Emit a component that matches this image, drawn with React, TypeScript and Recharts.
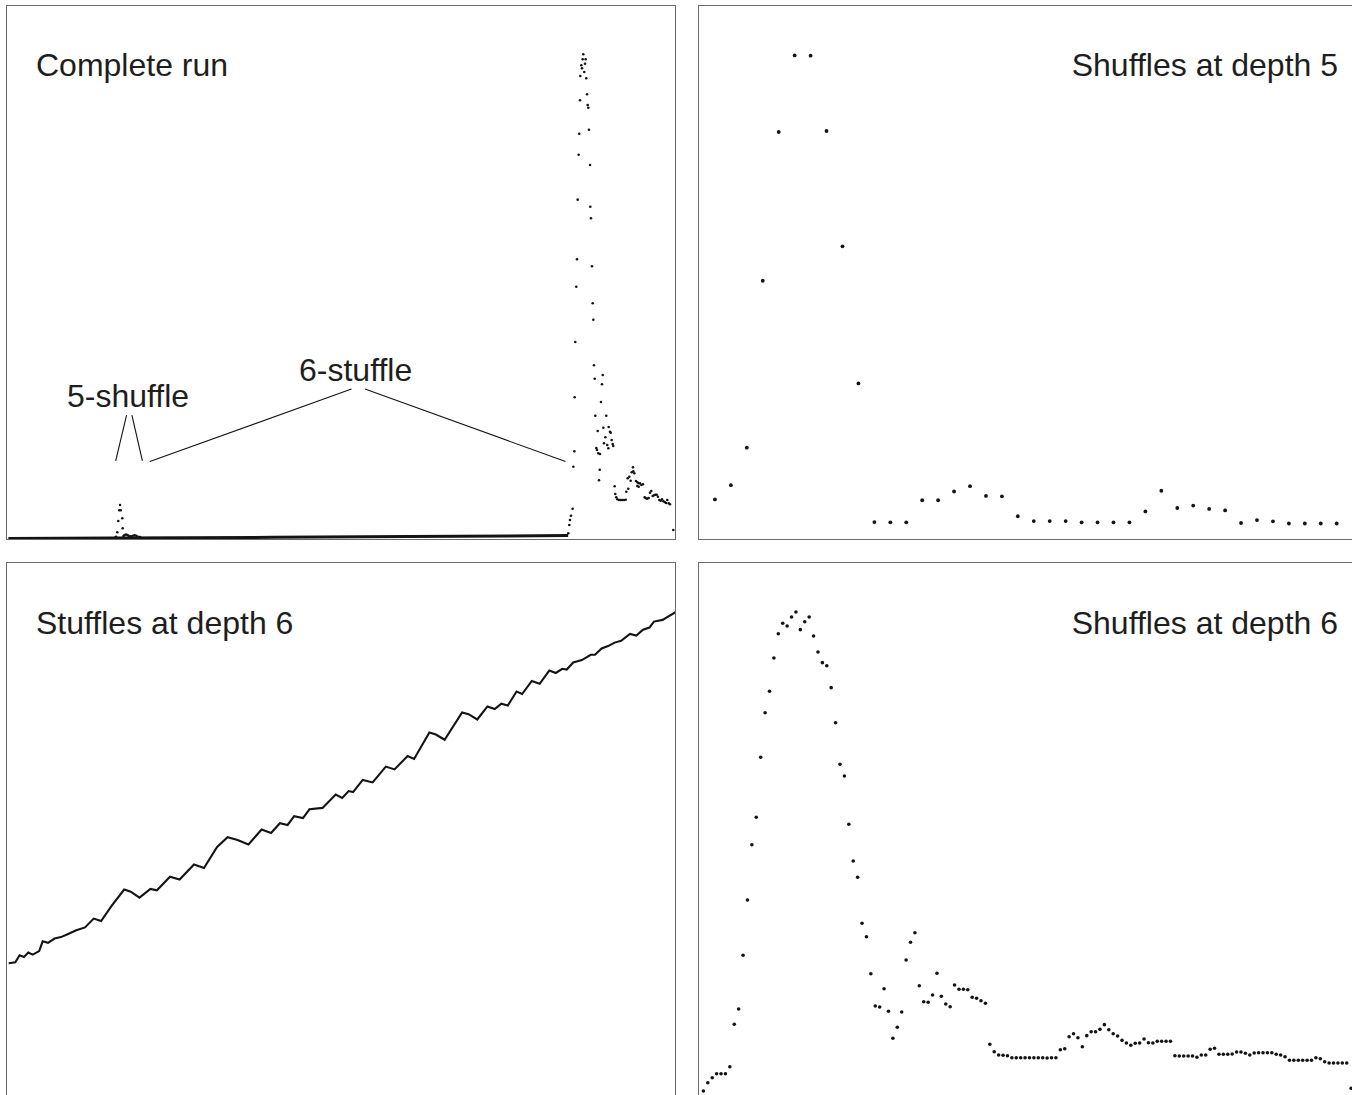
import React from 'react';
import { ScatterChart, Scatter, LineChart, Line, XAxis, YAxis, ReferenceLine } from 'recharts';

const PANEL_W = 668;
const PANEL_H = 533;
const INK = '#141414';
const FONT = "'Liberation Sans', Arial, Helvetica, sans-serif";

// Complete run: x = % of the run, y = count scaled so the tallest peak reads 100
const runBaseline = [[0.2, 0.1], [16, 0.2], [40, 0.35], [60, 0.5], [84, 0.72]];

const runFiveShuffle = [
  [16.24, 0.31], [16.32, 0.47], [16.51, 1.38], [16.66, 3.71], [16.81, 5.92], [16.92, 7.02],
  [17.02, 5.92], [17.26, 4.27], [17.32, 2.21], [17.44, 0.62], [17.59, 0.83], [17.81, 0.93],
  [18.04, 0.83], [18.26, 0.62], [18.56, 0.56], [18.86, 0.66], [19.09, 0.76], [19.31, 0.66],
  [19.54, 0.52], [19.91, 0.41],
];

const runSixShuffle = [
  [84.03, 1.18], [84.18, 2.89], [84.28, 3.92], [84.43, 4.81], [84.68, 6.25], [84.78, 14.92],
  [84.93, 18.1], [84.98, 29.24], [85.07, 40.66], [85.22, 52.07], [85.33, 57.73], [85.43, 70.03],
  [85.58, 79.31], [85.67, 83.65], [85.78, 90.54], [85.82, 95.55], [85.97, 97.76], [86.08, 97.14],
  [86.18, 99.0], [86.27, 100.03], [86.42, 96.38], [86.53, 98.09], [86.63, 99.0], [86.72, 95.08],
  [86.83, 91.78], [86.93, 89.57], [87.02, 89.01], [87.12, 84.47], [87.28, 77.19], [87.32, 68.58],
  [87.42, 66.19], [87.57, 56.28], [87.68, 48.64], [87.77, 45.26], [87.87, 35.85], [87.98, 33.08],
  [88.07, 25.45], [88.22, 18.78], [88.32, 18.37], [88.43, 22.29], [88.52, 17.69], [88.62, 12.11],
  [88.73, 14.3], [88.77, 17.54], [88.92, 28.27], [89.07, 31.93], [89.18, 33.85], [89.27, 22.97],
  [89.37, 19.75], [89.57, 20.99], [89.71, 25.45], [89.86, 19.4], [90.02, 18.72], [90.07, 23.11],
  [90.27, 22.14], [90.37, 21.94], [90.52, 20.43], [90.67, 19.61], [90.76, 19.19], [90.97, 10.88],
  [91.06, 9.29], [91.21, 8.61], [91.36, 8.19], [91.62, 8.05], [91.87, 8.05], [92.11, 8.05],
  [92.36, 8.05], [92.62, 8.11], [92.71, 9.76], [92.92, 12.53], [93.01, 10.38], [93.16, 12.86],
  [93.37, 12.03], [93.52, 13.77], [93.71, 14.8], [93.76, 13.97], [93.91, 13.56], [94.16, 11.97],
  [94.36, 11.7], [94.36, 10.94], [94.57, 11.5], [94.57, 10.79], [94.76, 11.5], [94.96, 11.14],
  [95.21, 11.29], [95.46, 8.61], [95.66, 8.4], [95.85, 8.32], [96.06, 8.46], [96.26, 9.56],
  [96.45, 9.91], [96.66, 8.87], [96.86, 9.02], [97.05, 9.14], [97.26, 9.14], [97.45, 8.73],
  [97.65, 8.05], [97.86, 7.9], [98.05, 8.19], [98.25, 7.78], [98.46, 7.64], [98.65, 7.43],
  [98.85, 8.05], [99.06, 7.37], [99.25, 7.16], [99.74, 1.86],
];

// callout lines on the complete run, [x1, y1, x2, y2]
const runCallouts = [
  [17.9, 25.59, 16.27, 16.1],
  [18.7, 25.59, 20.27, 16.1],
  [51.57, 30.95, 21.38, 15.99],
  [53.59, 30.95, 83.61, 15.99],
];

// Shuffles at depth 5, one value per shuffle
const depth5Shuffles = [
  8.17, 11.1, 18.85, 53.3, 84.0, 99.8, 99.75, 84.2, 60.4, 32.1,
  3.5, 3.45, 3.45, 8.0, 8.0, 9.8, 10.9, 8.9, 8.8, 4.7,
  3.7, 3.7, 3.7, 3.45, 3.45, 3.45, 3.45, 5.7, 9.96, 6.4,
  6.9, 6.2, 5.9, 3.3, 3.9, 3.65, 3.2, 3.2, 3.2, 3.2,
];

// Stuffles at depth 6: [% through the stuffles, value]
const depth6Stuffles = [
  [0.25, 27.39], [1.24, 27.59], [1.89, 29.04], [2.54, 28.67], [3.19, 29.62], [3.85, 29.18],
  [4.82, 29.9], [5.34, 31.93], [6.14, 31.62], [7.11, 32.5], [8.08, 32.79], [9.07, 33.37],
  [10.37, 34.22], [11.68, 34.8], [12.98, 36.61], [14.09, 36.12], [15.6, 39.15], [17.54, 42.6],
  [18.53, 42.16], [19.83, 40.93], [21.47, 42.74], [22.44, 42.45], [24.4, 45.26], [25.84, 44.68],
  [27.99, 47.78], [29.49, 47.05], [31.45, 51.39], [33.02, 53.41], [34.52, 52.83], [36.15, 51.91],
  [38.11, 55.0], [39.53, 54.28], [40.85, 56.3], [42.01, 55.93], [42.99, 57.75], [44.31, 57.37],
  [45.28, 59.17], [47.24, 59.46], [49.21, 62.2], [50.18, 61.5], [51.15, 62.93], [51.81, 62.72],
  [53.25, 65.24], [54.74, 64.72], [56.71, 67.98], [58.01, 67.4], [59.97, 70.15], [60.94, 69.57],
  [63.23, 75.04], [64.21, 74.61], [65.51, 73.53], [68.13, 79.15], [69.1, 78.8], [70.4, 77.7],
  [71.92, 80.39], [73.02, 79.87], [74.0, 80.96], [74.97, 80.59], [76.28, 83.48], [77.12, 82.96],
  [78.56, 85.65], [79.74, 85.07], [81.18, 87.81], [82.15, 87.3], [83.13, 88.17], [83.79, 88.02],
  [84.76, 89.46], [86.06, 89.96], [87.38, 91.05], [88.02, 91.05], [89.01, 92.35], [89.98, 92.85],
  [90.96, 93.57], [91.94, 93.94], [93.25, 95.37], [94.22, 95.02], [95.21, 96.23], [96.18, 96.67],
  [96.84, 97.91], [98.14, 98.26], [100.1, 99.85],
];

// Shuffles at depth 6, one value per shuffle
const depth6Shuffles = [
  1.03, 2.74, 3.78, 4.6, 4.6, 4.6, 6.05, 14.8, 17.96, 29.04,
  40.45, 51.86, 57.52, 69.9, 79.11, 83.52, 90.4, 95.41, 97.56, 97.0,
  98.86, 99.89, 96.24, 97.89, 98.86, 94.94, 91.63, 89.43, 88.81, 84.27,
  77.04, 68.46, 66.04, 56.07, 48.5, 45.14, 35.64, 32.88, 25.24, 18.57,
  18.37, 22.14, 17.48, 11.91, 14.18, 17.34, 28.07, 31.72, 33.7, 22.76,
  19.46, 19.34, 20.84, 25.32, 20.58, 18.99, 18.43, 22.91, 22.02, 22.02,
  21.94, 20.37, 20.16, 19.67, 19.13, 10.67, 9.14, 8.46, 8.4, 8.32,
  7.9, 7.9, 7.9, 7.9, 7.9, 7.9, 7.9, 7.9, 7.85, 7.9,
  7.9, 9.56, 9.76, 12.24, 12.86, 12.03, 10.17, 12.45, 13.27, 13.27,
  13.76, 14.72, 13.68, 12.86, 12.38, 11.49, 10.94, 10.46, 10.88, 10.94,
  11.76, 11.0, 10.94, 11.29, 11.29, 11.29, 11.29, 8.32, 8.26, 8.26,
  8.26, 8.26, 7.99, 8.46, 8.46, 9.64, 9.84, 8.61, 8.61, 8.61,
  8.67, 9.08, 9.08, 8.81, 8.46, 8.87, 8.94, 8.94, 8.94, 8.94,
  8.61, 8.46, 8.11, 7.37, 7.37, 7.37, 7.37, 7.37, 7.37, 7.9,
  7.7, 7.08, 6.81, 6.81, 6.81, 6.81, 6.81, 1.59,
];

const toPoints = (pairs: number[][]) => pairs.map(([x, y]) => ({ x, y }));
const indexed = (values: number[]) => values.map((y, i) => ({ x: i + 1, y }));

const dot = (r: number) => (props: any) => <circle cx={props.cx} cy={props.cy} r={r} fill={INK} />;
const noDot = () => <g />;

const margin = { top: 0, right: 0, bottom: 0, left: 0 };

const Frame = ({ left, top }: { left: number; top: number }) => (
  <div
    style={{
      position: 'absolute',
      left: left - 1,
      top: top - 1,
      width: PANEL_W + 2,
      height: PANEL_H + 2,
      boxSizing: 'border-box',
      border: '1.5px solid #6a6a6a',
    }}
  />
);

const App = () => {
  return (
    <div
      style={{
        position: 'absolute',
        left: 0,
        top: 0,
        width: 1352,
        height: 1095,
        overflow: 'hidden',
        background: '#fff',
      }}
    >
      <Frame left={7} top={6} />
      <Frame left={699} top={6} />
      <Frame left={7} top={563} />
      <Frame left={699} top={563} />

      <div style={{ position: 'absolute', left: 7, top: 6 }}>
        <ScatterChart width={PANEL_W} height={PANEL_H} margin={margin}>
          <XAxis type="number" dataKey="x" domain={[0, 100]} hide allowDataOverflow />
          <YAxis type="number" dataKey="y" domain={[0, 110]} hide allowDataOverflow />
          <Scatter
            data={toPoints(runBaseline)}
            line={{ stroke: INK, strokeWidth: 3 }}
            shape={noDot}
            isAnimationActive={false}
          />
          <Scatter data={toPoints(runFiveShuffle)} shape={dot(1.3)} isAnimationActive={false} />
          <Scatter data={toPoints(runSixShuffle)} shape={dot(1.3)} isAnimationActive={false} />
          {runCallouts.map(([x1, y1, x2, y2], i) => (
            <ReferenceLine
              key={i}
              segment={[{ x: x1, y: y1 }, { x: x2, y: y2 }]}
              stroke={INK}
              strokeWidth={1.1}
            />
          ))}
        </ScatterChart>
      </div>

      <div style={{ position: 'absolute', left: 699, top: 6 }}>
        <ScatterChart width={PANEL_W} height={PANEL_H} margin={margin}>
          <XAxis type="number" dataKey="x" domain={[0, 41.9]} hide allowDataOverflow />
          <YAxis type="number" dataKey="y" domain={[0, 110]} hide allowDataOverflow />
          <Scatter data={indexed(depth5Shuffles)} shape={dot(1.9)} isAnimationActive={false} />
        </ScatterChart>
      </div>

      <div style={{ position: 'absolute', left: 7, top: 563 }}>
        <LineChart width={PANEL_W} height={PANEL_H} margin={margin} data={toPoints(depth6Stuffles)}>
          <XAxis type="number" dataKey="x" domain={[0, 100]} hide allowDataOverflow />
          <YAxis type="number" domain={[0, 110]} hide allowDataOverflow />
          <Line
            type="linear"
            dataKey="y"
            stroke={INK}
            strokeWidth={2.1}
            dot={false}
            isAnimationActive={false}
          />
        </LineChart>
      </div>

      <div style={{ position: 'absolute', left: 699, top: 563 }}>
        <ScatterChart width={PANEL_W} height={PANEL_H} margin={margin}>
          <XAxis type="number" dataKey="x" domain={[0, 151.6]} hide allowDataOverflow />
          <YAxis type="number" dataKey="y" domain={[0, 110]} hide allowDataOverflow />
          <Scatter data={indexed(depth6Shuffles)} shape={dot(1.8)} isAnimationActive={false} />
        </ScatterChart>
      </div>

      <svg
        width={1352}
        height={1095}
        style={{ position: 'absolute', left: 0, top: 0, pointerEvents: 'none' }}
      >
        <g fontFamily={FONT} fontSize={32} fill="#1e1e1e">
          <text x={36} y={76}>Complete run</text>
          <text x={67} y={407}>5-shuffle</text>
          <text x={299} y={381}>6-stuffle</text>
          <text x={1338} y={76} textAnchor="end">Shuffles at depth 5</text>
          <text x={36} y={634}>Stuffles at depth 6</text>
          <text x={1338} y={634} textAnchor="end">Shuffles at depth 6</text>
        </g>
      </svg>
    </div>
  );
};

export default App;
